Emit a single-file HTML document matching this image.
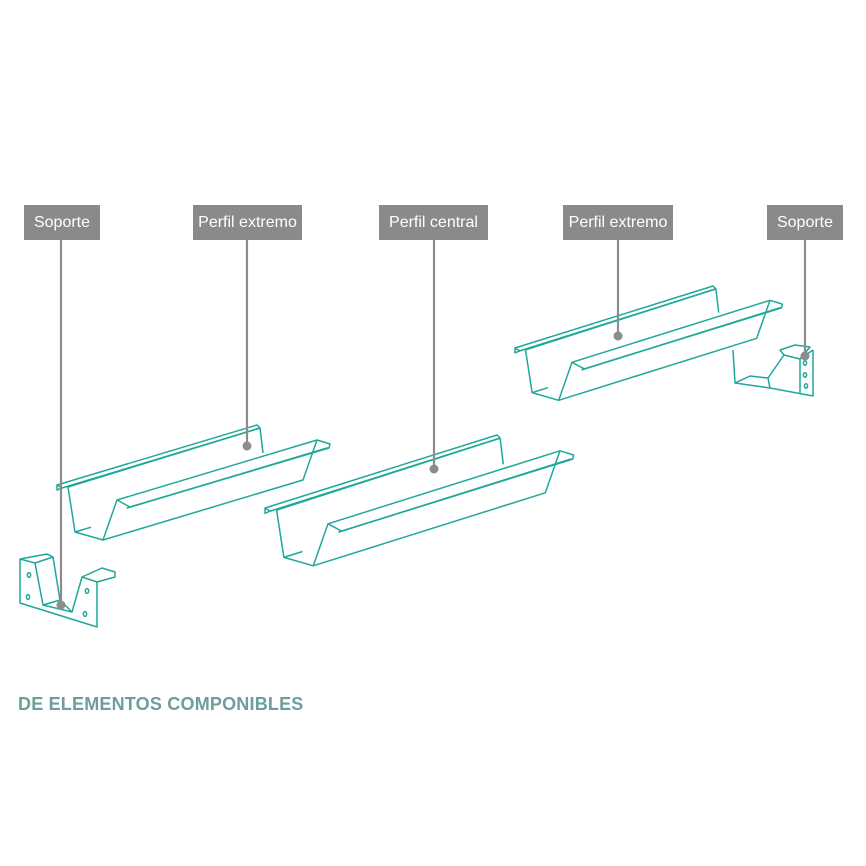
<!DOCTYPE html>
<html><head><meta charset="utf-8"><style>
body{margin:0;background:#fff;width:866px;height:866px;overflow:hidden;position:relative;font-family:"Liberation Sans",sans-serif}
.lb{position:absolute;top:205px;height:35px;background:#8a8a8a;color:#fff;font-size:16px;line-height:35px;text-align:center}
.t{position:absolute;left:18px;top:694px;color:#6d9e9b;font-weight:bold;font-size:18px;letter-spacing:0.2px}
svg{position:absolute;left:0;top:0}
</style></head><body>
<svg width="866" height="866" id="s">
<g id="g" fill="none" stroke="#1fa89a" stroke-width="1.5" stroke-linejoin="round"></g>
<g stroke="#8c8c8c" stroke-width="2.2" fill="#8c8c8c">
<line x1="61" y1="240" x2="61" y2="605"/><circle cx="61" cy="605" r="4.5" stroke="none"/>
<line x1="247" y1="240" x2="247" y2="446"/><circle cx="247" cy="446" r="4.5" stroke="none"/>
<line x1="434" y1="240" x2="434" y2="469"/><circle cx="434" cy="469" r="4.5" stroke="none"/>
<line x1="618" y1="240" x2="618" y2="336"/><circle cx="618" cy="336" r="4.5" stroke="none"/>
<line x1="805" y1="240" x2="805" y2="356"/><circle cx="805" cy="356" r="4.5" stroke="none"/>
</g>
</svg>
<div class="lb" style="left:24px;width:76px">Soporte</div>
<div class="lb" style="left:193px;width:109px">Perfil extremo</div>
<div class="lb" style="left:379px;width:109px">Perfil central</div>
<div class="lb" style="left:563px;width:110px">Perfil extremo</div>
<div class="lb" style="left:767px;width:76px">Soporte</div>
<div class="t">DE ELEMENTOS COMPONIBLES</div>
<script>
var g=document.getElementById('g'),NS='http://www.w3.org/2000/svg';
function pl(pts,close){var e=document.createElementNS(NS,close?'polygon':'polyline');e.setAttribute('points',pts.map(p=>p[0].toFixed(1)+','+p[1].toFixed(1)).join(' '));g.appendChild(e);}
function gutter(ox,oy,s,V){
 function P(x,y,t){return [ox+x*s+(t?V[0]:0),oy+y*s+(t?V[1]:0)];}
 var A=[0,0],B=[0,5],C=[5,3],D=[11,2],E=[18,47],F=[46,55],G=[60,15],H=[70,23],I=[66,17],J=[73,22];
 pl([P(...A),P(...C),P(...B),P(...A)],1);
 pl([P(...D),P(...E),P(...F),P(...G),P(...J),P(...H)]);
 pl([P(...A),P(...A,1),P(3,3,1)]);
 pl([P(...C),P(3,3,1)]);
 pl([P(...D),P(3,3,1)]);
 pl([P(3,3,1),P(6,28,1)]);
 pl([P(...G),P(...G,1),P(G[0]+13,G[1]+4,1),P(G[0]+12,G[1]+8,1),P(...H,1)]);
 pl([P(...H),P(...H,1)]);
 pl([P(...J),P(G[0]+12,G[1]+8,1)]);
 pl([P(...G,1),P(...F,1),P(...F)]);
 pl([P(...E),P(E[0]+V[0]*0.08/s,E[1]+V[1]*0.08/s)]);
}
gutter(57,485,1,[200,-60]);
gutter(265,508,1.05,[232,-73]);
gutter(515,348,0.95,[198,-62]);
pl([[20,559],[35,563],[43,605],[72,612],[82,577],[97,582],[97,627],[20,603]],1);
pl([[20,559],[47,554],[53,557],[35,563]]);
pl([[53,557],[60,600],[72,612]]);
pl([[43,605],[60,600]]);
pl([[82,577],[102,568],[115,572],[115,577],[97,582]]);
[[29,575],[28,597],[87,591],[85,614]].forEach(c=>{var e=document.createElementNS(NS,'ellipse');e.setAttribute('cx',c[0]);e.setAttribute('cy',c[1]);e.setAttribute('rx',1.6);e.setAttribute('ry',2.4);g.appendChild(e);});
pl([[813,350],[813,396],[770,388],[735,383],[733,350]]);
pl([[735,383],[750,376],[768,378],[784,355],[800,359],[813,350]]);
pl([[768,378],[770,388]]);
pl([[784,355],[780,350],[795,345],[810,347],[800,359]]);
pl([[800,359],[800,394]]);
[[805,363],[805,375],[806,386]].forEach(c=>{var e=document.createElementNS(NS,'ellipse');e.setAttribute('cx',c[0]);e.setAttribute('cy',c[1]);e.setAttribute('rx',1.6);e.setAttribute('ry',2.2);g.appendChild(e);});
</script>
</body></html>
